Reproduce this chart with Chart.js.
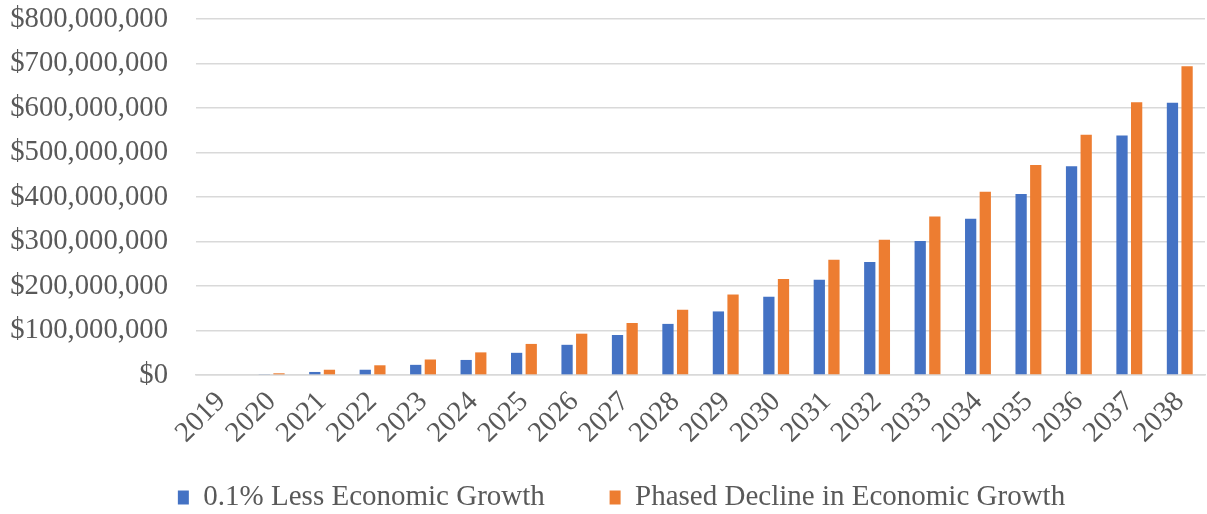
<!DOCTYPE html>
<html>
<head>
<meta charset="utf-8">
<script src="https://cdn.jsdelivr.net/npm/chart.js@4"></script>
<style>
  html, body { margin: 0; padding: 0; background: #fff; }
  #wrap { position: relative; width: 1207px; height: 514px; }
</style>
</head>
<body>
<div id="wrap"><canvas id="chart"></canvas></div>
<script>
const years = ["2019", "2020", "2021", "2022", "2023", "2024", "2025", "2026", "2027", "2028",
  "2029", "2030", "2031", "2032", "2033", "2034", "2035", "2036", "2037", "2038"];

// 0.1% less growth
const lessGrowth = [0, 2e6, 7e6, 12e6, 23e6, 34e6, 50e6, 68e6, 90e6, 115e6,
  143e6, 176e6, 214e6, 254e6, 301e6, 351e6, 407e6, 469e6, 538e6, 612e6];

// phased decline
const phasedDecline = [0, 4e6, 12e6, 22e6, 35e6, 51e6, 70e6, 93e6, 117e6, 147e6,
  181e6, 216e6, 259e6, 304e6, 356e6, 412e6, 472e6, 540e6, 613e6, 694e6];

const seriesNames = ["0.1% Less Economic Growth", "Phased Decline in Economic Growth"];

const font = "'Liberation Serif', 'Times New Roman', serif";

// legend in the original sits a bit right of the canvas centre and lower down
const shiftLegend = {
  id: "shiftLegend",
  afterLayout(chart) {
    chart.legend.left += 14;
    chart.legend.right += 14;
    chart.legend.top += 8;
    chart.legend.bottom += 8;
  },
};

const config = {
  type: "bar",
  data: {
    labels: years,
    datasets: [
      {
        label: seriesNames[0],
        data: lessGrowth,
        backgroundColor: "#4472C4",
        categoryPercentage: 0.58,
        barPercentage: 0.77,
      },
      {
        label: seriesNames[1],
        data: phasedDecline,
        backgroundColor: "#ED7D31",
        categoryPercentage: 0.58,
        barPercentage: 0.77,
      },
    ],
  },
  options: {
    responsive: true,
    maintainAspectRatio: false,
    animation: false,
    layout: {
      padding: { left: 10, right: 2, top: 0, bottom: 0 },
    },
    plugins: {
      tooltip: { enabled: false },
      legend: {
        position: "bottom",
        labels: {
          color: "#595959",
          font: { family: font, size: 29 },
          boxWidth: 11,
          boxHeight: 14,
          padding: 14,
          // extra room after the first item, like the Excel legend
          generateLabels: (chart) =>
            Chart.defaults.plugins.legend.labels.generateLabels(chart).map((item, i) => {
              if (i === 0) item.text += "       ";
              return item;
            }),
        },
      },
    },
    scales: {
      x: {
        ticks: {
          color: "#595959",
          font: { family: font, size: 28.7 },
          minRotation: 45,
          maxRotation: 45,
          autoSkip: false,
          padding: 2,
        },
        grid: { display: false },
        border: { color: "#d9d9d9", width: 1.5 },
        afterFit: (s) => { s.paddingLeft = 0; s.paddingRight = 0; s.height += 9; },
      },
      y: {
        min: 0,
        max: 800000000,
        ticks: {
          stepSize: 100000000,
          color: "#595959",
          font: { family: font, size: 28.7 },
          padding: 28,
          callback: (v) => "$" + Number(v).toLocaleString("en-US"),
        },
        grid: { color: "#d9d9d9", lineWidth: 1.5, drawTicks: false },
        border: { display: false },
        afterFit: (s) => { s.width = 186; s.paddingTop = 19; s.paddingBottom = 0; },
      },
    },
  },
  plugins: [shiftLegend],
};

const ctx = document.getElementById("chart").getContext("2d");
new Chart(ctx, config);
</script>
</body>
</html>
